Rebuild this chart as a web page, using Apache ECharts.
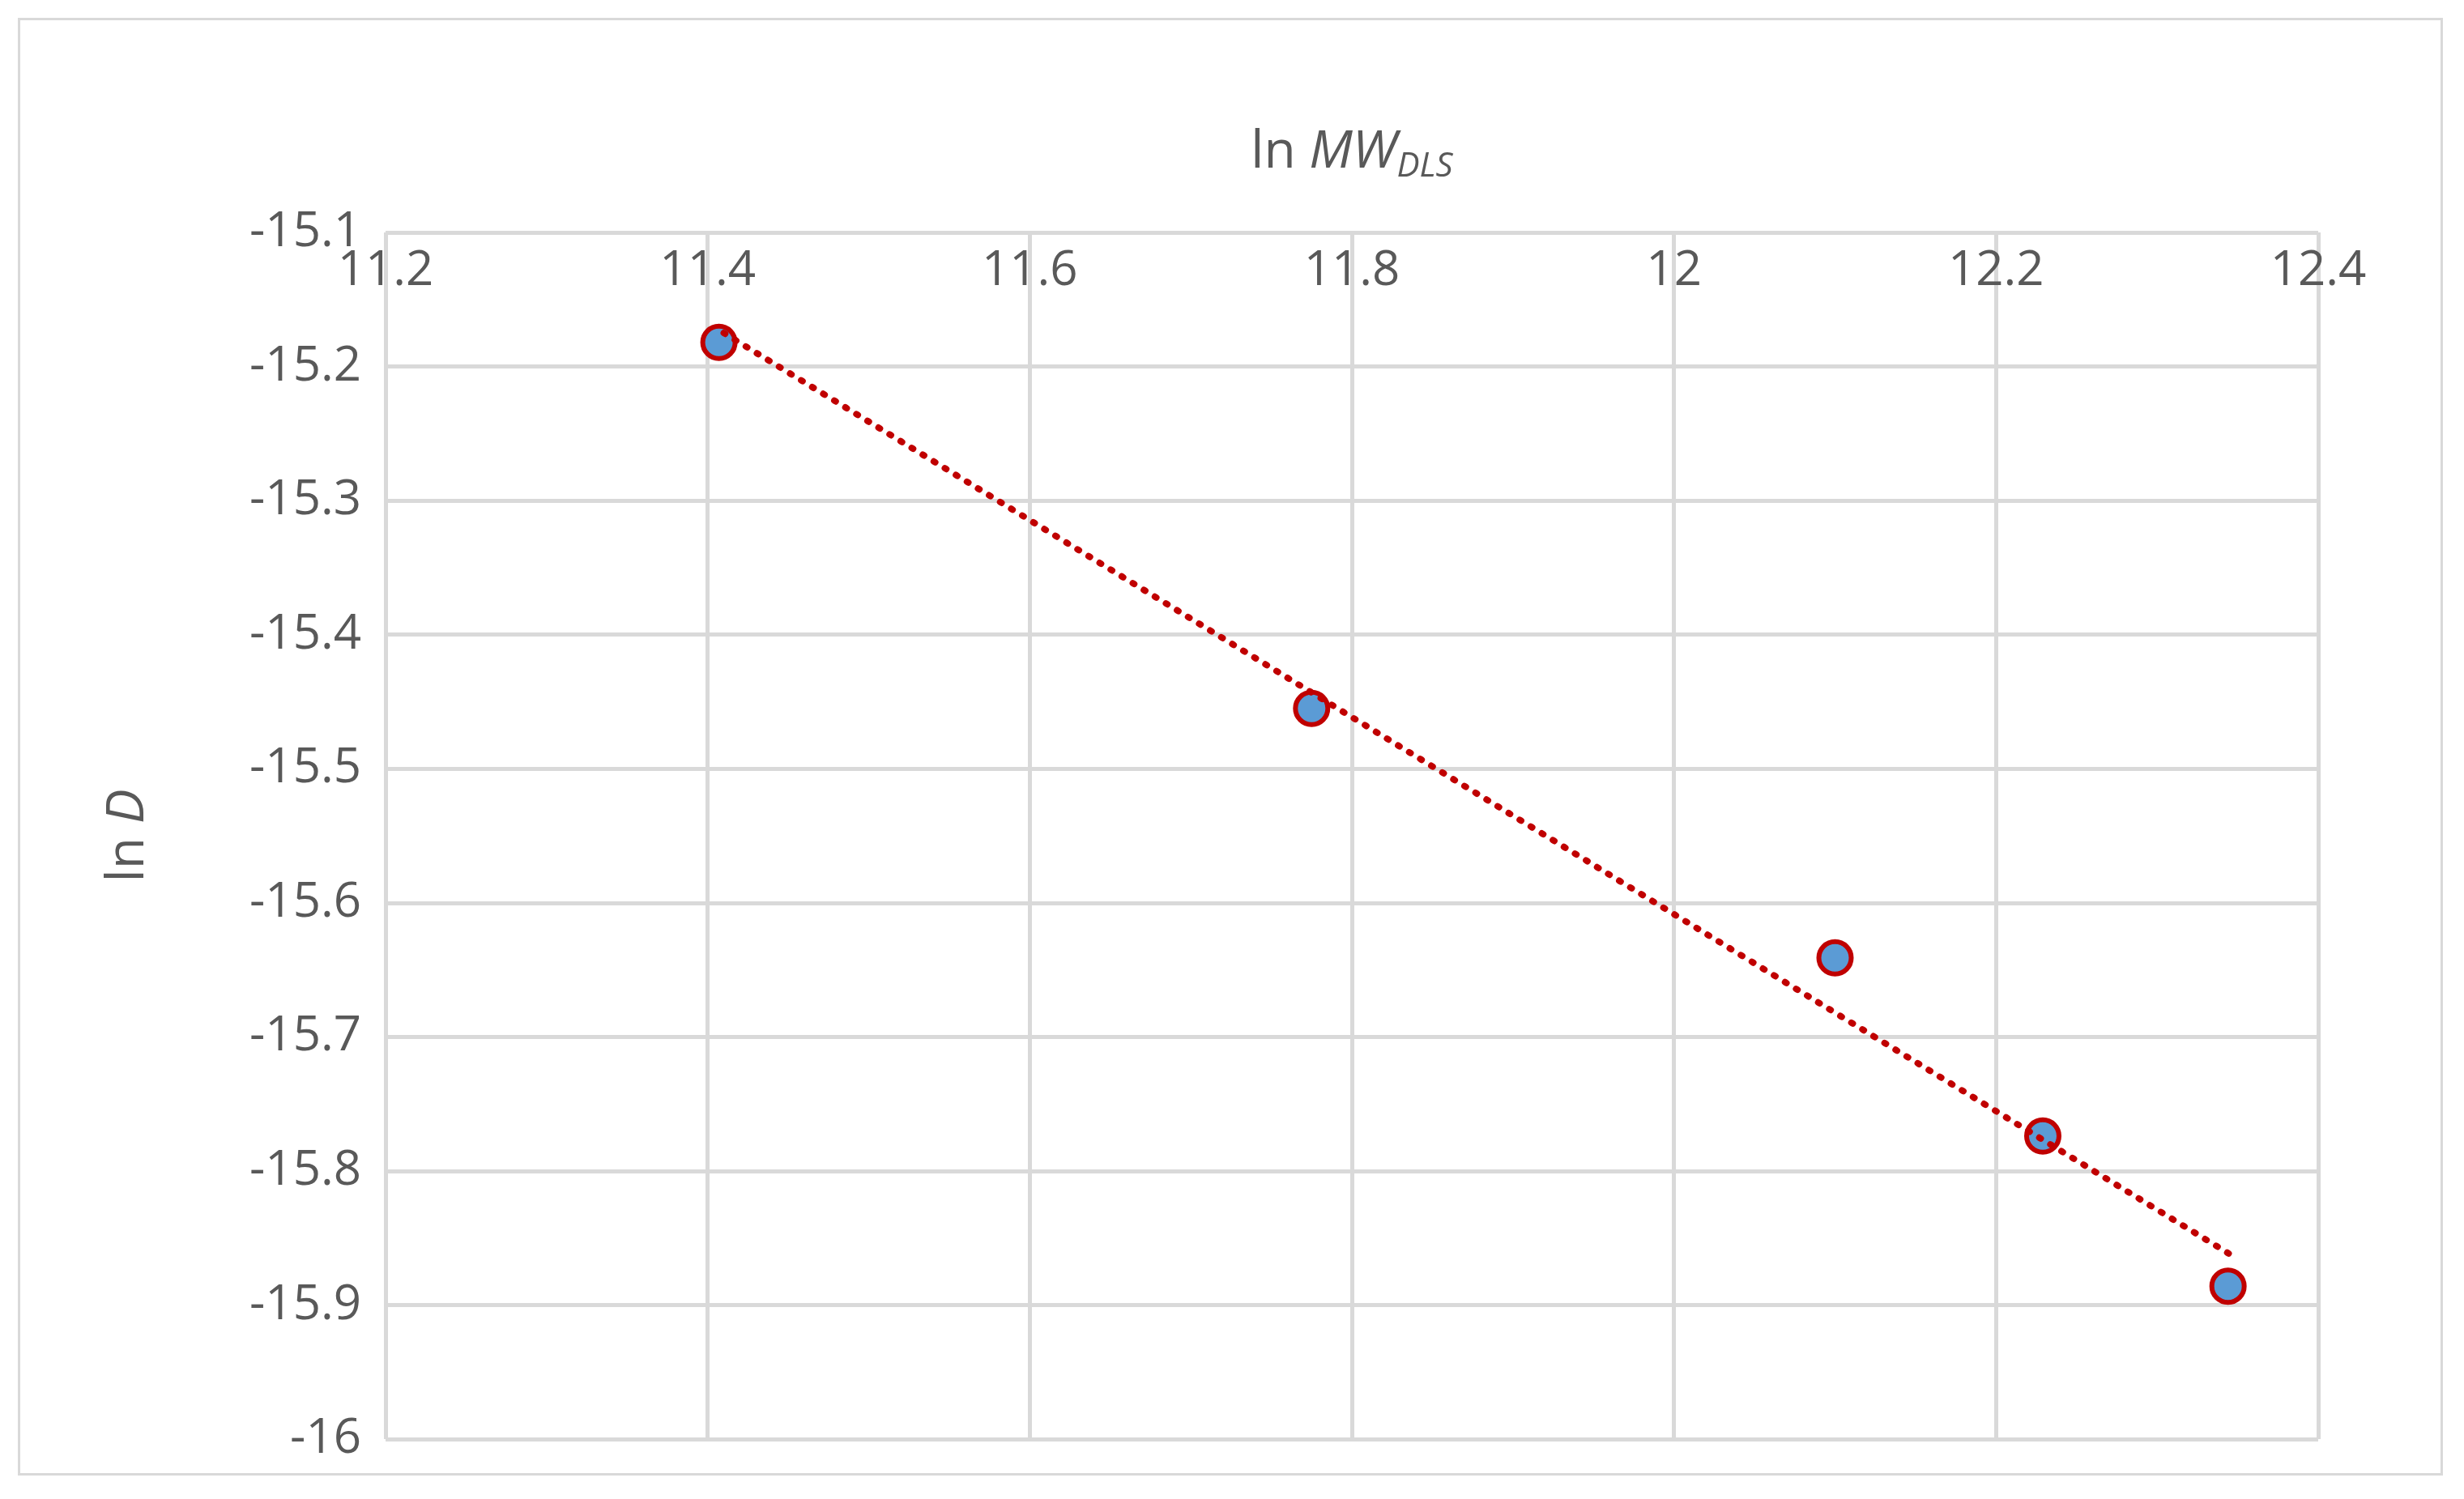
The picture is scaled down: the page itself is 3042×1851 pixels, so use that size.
<!DOCTYPE html>
<html>
<head>
<meta charset="utf-8">
<script src="https://cdn.jsdelivr.net/npm/echarts@6/dist/echarts.min.js"></script>
<style>
html,body{margin:0;padding:0;background:#fff;}
#frame{position:absolute;left:22px;top:22px;width:2994px;height:1800px;border:3px solid #d9d9d9;box-sizing:border-box;}
#main{position:absolute;left:0;top:0;width:3042px;height:1851px;}
</style>
</head>
<body>
<div id="frame"></div>
<div id="main"></div>
<script>
const lnMW = [11.407, 11.775, 12.1, 12.229, 12.344];
const lnD = [-15.182, -15.455, -15.641, -15.774, -15.886];
const trendX = [11.41, 12.345];
const trendY = [-15.175, -15.862];

const chart = echarts.init(document.getElementById("main"));
const font = "'Open Sans', 'Liberation Sans', sans-serif";
const gridLine = { show: true, lineStyle: { color: "#d9d9d9", width: 5 } };
chart.setOption({
    animation: false,
    grid: { left: 476, right: 180, top: 287, bottom: 74 },
    xAxis: {
        type: "value", position: "top", min: 11.2, max: 12.4, interval: 0.2,
        name: "{n|ln }{i|MW}{s|DLS}", nameLocation: "middle", nameGap: 60,
        nameTextStyle: { rich: {
            n: { fontSize: 64, color: "#595959", fontFamily: font },
            i: { fontSize: 64, color: "#595959", fontFamily: font, fontStyle: "italic" },
            s: { fontSize: 42, color: "#595959", fontFamily: font, fontStyle: "italic", padding: [34, 0, 0, 0] },
        } },
        axisLine: { show: false }, axisTick: { show: false },
        splitLine: gridLine,
        axisLabel: { inside: true, margin: 18, fontSize: 60, color: "#595959", fontFamily: font,
            formatter: (v) => String(+v.toFixed(1)) },
    },
    yAxis: {
        type: "value", min: -16, max: -15.1, interval: 0.1,
        name: "{n|ln }{i|D}", nameLocation: "middle", nameGap: 285, nameRotate: 90,
        nameTextStyle: { rich: {
            n: { fontSize: 64, color: "#595959", fontFamily: font },
            i: { fontSize: 64, color: "#595959", fontFamily: font, fontStyle: "italic" },
        } },
        axisLine: { show: false }, axisTick: { show: false },
        splitLine: gridLine,
        axisLabel: { margin: 30, fontSize: 60, color: "#595959", fontFamily: font,
            formatter: (v) => String(+v.toFixed(1)) },
    },
    series: [
        {
            type: "line", data: trendX.map((x, i) => [x, trendY[i]]), symbol: "none",
            lineStyle: { color: "#c00000", width: 8, type: [2, 14], cap: "round" }, z: 3,
        },
        {
            type: "scatter", data: lnMW.map((x, i) => [x, lnD[i]]), symbolSize: 40,
            itemStyle: { color: "#5b9bd5", borderColor: "#c00000", borderWidth: 6, opacity: 1 }, z: 2,
        },
    ],
});
</script>
</body>
</html>
